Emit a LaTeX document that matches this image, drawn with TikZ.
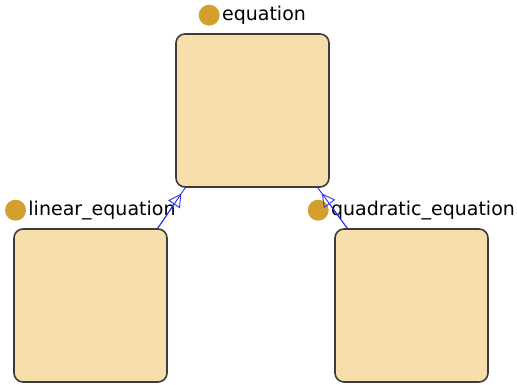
\documentclass[tikz,border=0pt]{standalone}
\usepackage{fontspec}
\setmainfont{DejaVu Sans}
\definecolor{ClassFill}{RGB}{246,223,170}
\definecolor{ClassLine}{RGB}{60,60,60}
\definecolor{ClassDot}{RGB}{211,160,48}
\definecolor{IsaBlue}{RGB}{40,50,250}
\usetikzlibrary{arrows.meta, positioning, calc}

\tikzset{
  classbox/.style={draw=ClassLine, fill=ClassFill, rounded corners=9pt,
    line width=1.6pt, minimum width=153pt, minimum height=153pt, inner sep=0pt},
  classname/.style={inner sep=0pt, anchor=base, text height=14pt, text depth=4pt,
    font=\fontsize{19}{22}\selectfont},
  classdot/.style={circle, fill=ClassDot, minimum size=21pt, inner sep=0pt},
  isaline/.style={draw=IsaBlue, line width=0.9pt},
  isatip/.style={draw=IsaBlue, line width=0.9pt,
    -{Triangle[open, length=13pt, width=14pt]}}
}

\begin{document}
\begin{tikzpicture}[x=1pt, y=1pt]
\useasboundingbox (0,0) rectangle (517,385);

% classes
\node[classbox] (eq)   at (252.5,274.5) {};
\node[classbox] (lin)  at (90.5,79.5)   {};
\node[classbox] (quad) at (411.5,79.5)  {};

% class labels
\node[classname, xshift=11.5pt] (eqname) at ($(eq.north)+(0,13pt)$) {equation};
\node[classdot, left=2pt of eqname.west] (eqdot) {};
\node[classname, xshift=11.5pt] (linname) at ($(lin.north)+(0,13pt)$) {linear\_equation};
\node[classdot, left=2pt of linname.west] (lindot) {};
\node[classname, xshift=11.5pt] (quadname) at ($(quad.north)+(0,13pt)$) {quadratic\_equation};
\node[classdot, left=2pt of quadname.west] (quaddot) {};

% subclass links
\coordinate (linA) at ($(lin.north east)+(-10pt,0)$);
\coordinate (linB) at ($(eq.south west)+(10pt,0)$);
\coordinate (quadA) at ($(quad.north west)+(13pt,0)$);
\coordinate (quadB) at ($(eq.south east)+(-12pt,0)$);
\draw[isaline] (linA) -- (linB);
\draw[isatip] (linA) -- ($(linB)!7pt!(linA)$);
\draw[isaline] (quadA) -- (quadB);
\draw[isatip] (quadA) -- ($(quadB)!7pt!(quadA)$);
\end{tikzpicture}
\end{document}
